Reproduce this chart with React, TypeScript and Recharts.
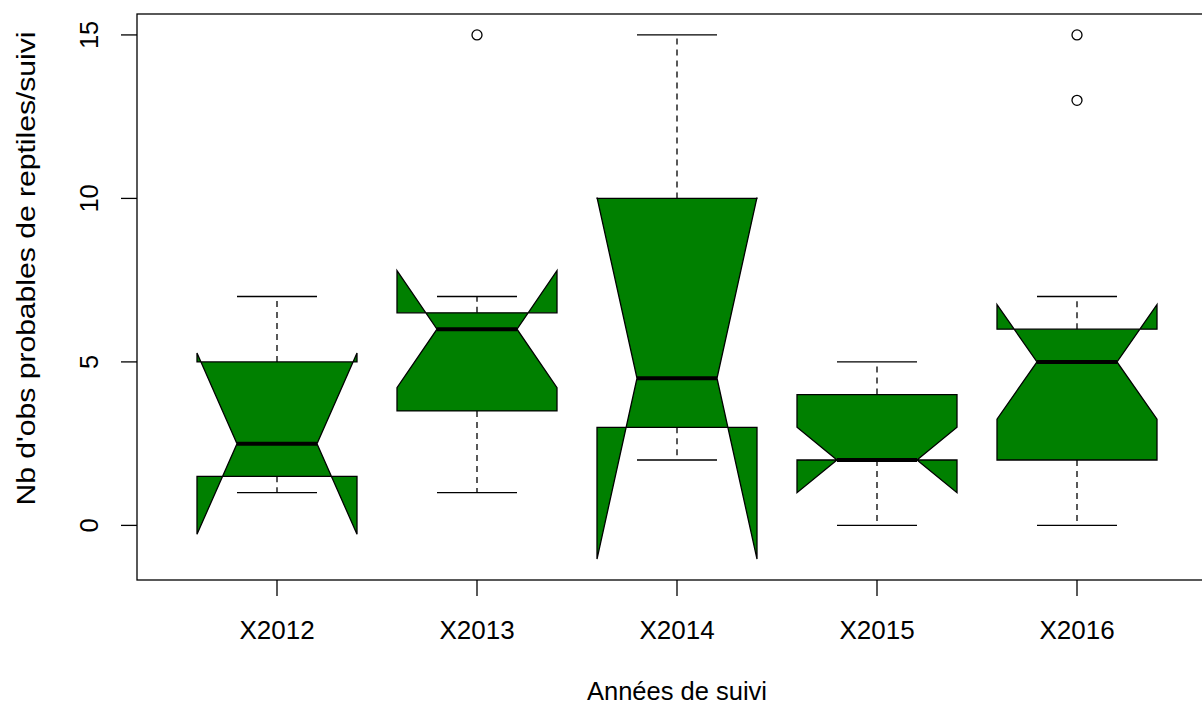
import React from 'react';
import { ComposedChart, Bar, XAxis, YAxis } from 'recharts';

// values
const categories = ['X2012', 'X2013', 'X2014', 'X2015', 'X2016'];
const whiskerLow = [1, 1, 2, 0, 0];
const lowerQuartile = [1.5, 3.5, 3, 2, 2];
const medians = [2.5, 6, 4.5, 2, 5];
const upperQuartile = [5, 6.5, 10, 4, 6];
const whiskerHigh = [7, 7, 15, 5, 7];
const notchLow = [-0.27, 4.21, -1.03, 1, 3.25];
const notchHigh = [5.27, 7.79, 10.03, 3, 6.75];
const outliers: number[][] = [[], [15], [], [], [13, 15]];
const yTicks = [0, 5, 10, 15];

const FONT = '"Liberation Sans", Arial, sans-serif';
const GREEN = '#008000';

const data = categories.map((name, i) => {
  const all = [whiskerLow[i], whiskerHigh[i], notchLow[i], notchHigh[i], ...outliers[i]];
  return {
    name,
    range: [Math.min(...all), Math.max(...all)],
    low: whiskerLow[i],
    q1: lowerQuartile[i],
    med: medians[i],
    q3: upperQuartile[i],
    high: whiskerHigh[i],
    nLo: notchLow[i],
    nHi: notchHigh[i],
    out: outliers[i],
  };
});

const BoxShape = (props: any) => {
  const { x, y, width, height, payload } = props;
  const top = Math.min(y, y + height);
  const bottom = Math.max(y, y + height);
  const [lo, hi] = payload.range;
  const py = (v: number) => top + ((hi - v) / (hi - lo)) * (bottom - top);
  const cx = x + width / 2;
  const hw = width / 2;
  const pts = [
    [cx - hw, py(payload.q1)],
    [cx - hw, py(payload.nLo)],
    [cx - hw / 2, py(payload.med)],
    [cx - hw, py(payload.nHi)],
    [cx - hw, py(payload.q3)],
    [cx + hw, py(payload.q3)],
    [cx + hw, py(payload.nHi)],
    [cx + hw / 2, py(payload.med)],
    [cx + hw, py(payload.nLo)],
    [cx + hw, py(payload.q1)],
  ]
    .map((p) => p.join(','))
    .join(' ');
  return (
    <g>
      <line x1={cx} x2={cx} y1={py(payload.q3)} y2={py(payload.high)} stroke="#000" strokeWidth={1.3} strokeDasharray="6 5" />
      <line x1={cx} x2={cx} y1={py(payload.q1)} y2={py(payload.low)} stroke="#000" strokeWidth={1.3} strokeDasharray="6 5" />
      <line x1={cx - hw / 2} x2={cx + hw / 2} y1={py(payload.high)} y2={py(payload.high)} stroke="#000" strokeWidth={1.3} />
      <line x1={cx - hw / 2} x2={cx + hw / 2} y1={py(payload.low)} y2={py(payload.low)} stroke="#000" strokeWidth={1.3} />
      <polygon points={pts} fill={GREEN} stroke="#000" strokeWidth={1.3} strokeLinejoin="miter" />
      <line x1={cx - hw / 2} x2={cx + hw / 2} y1={py(payload.med)} y2={py(payload.med)} stroke="#000" strokeWidth={4} />
      {payload.out.map((v: number, k: number) => (
        <circle key={k} cx={cx} cy={py(v)} r={5} fill="none" stroke="#000" strokeWidth={1.3} />
      ))}
    </g>
  );
};

const XTick = (props: any) => (
  <text x={props.x} y={props.y + 41} textAnchor="middle" fontFamily={FONT} fontSize={26} fill="#000">
    {props.payload.value}
  </text>
);

const YTick = (props: any) => {
  const tx = props.x - 21;
  return (
    <text x={tx} y={props.y} textAnchor="middle" fontFamily={FONT} fontSize={25.5} fill="#000" transform={`rotate(-90, ${tx}, ${props.y})`}>
      {props.payload.value}
    </text>
  );
};

export default function App() {
  return (
    <div style={{ position: 'absolute', left: 0, top: 0, width: 1202, height: 705, overflow: 'hidden', background: '#fff' }}>
      <ComposedChart width={1240} height={705} data={data} margin={{ top: 14, right: 23, bottom: 0, left: 0 }}>
        <XAxis
          dataKey="name"
          height={125}
          padding={{ left: 40, right: 40 }}
          axisLine={false}
          tickLine={{ stroke: '#000', strokeWidth: 1.3 }}
          tickSize={16}
          tick={<XTick />}
          interval={0}
          label={({ viewBox }: any) => (
            <text x={viewBox.x + viewBox.width / 2} y={700} textAnchor="middle" fontFamily={FONT} fontSize={25.5} fill="#000">
              Années de suivi
            </text>
          )}
        />
        <YAxis
          type="number"
          width={137}
          domain={[-1.67, 15.64]}
          ticks={yTicks}
          allowDataOverflow
          axisLine={false}
          tickLine={{ stroke: '#000', strokeWidth: 1.3 }}
          tickSize={16}
          tick={<YTick />}
          label={() => (
            <text
              x={35}
              y={268.5}
              textAnchor="middle"
              fontFamily={FONT}
              fontSize={26}
              fill="#000"
              textLength={474}
              lengthAdjust="spacingAndGlyphs"
              transform="rotate(-90, 35, 268.5)"
            >
              Nb d'obs probables de reptiles/suivi
            </text>
          )}
        />
        <Bar dataKey="range" barSize={160} shape={<BoxShape />} isAnimationActive={false} />
      </ComposedChart>
      <svg width={1202} height={705} style={{ position: 'absolute', left: 0, top: 0, pointerEvents: 'none' }}>
        <rect x={137} y={14} width={1080} height={566} fill="none" stroke="#000" strokeWidth={1.3} />
      </svg>
    </div>
  );
}
